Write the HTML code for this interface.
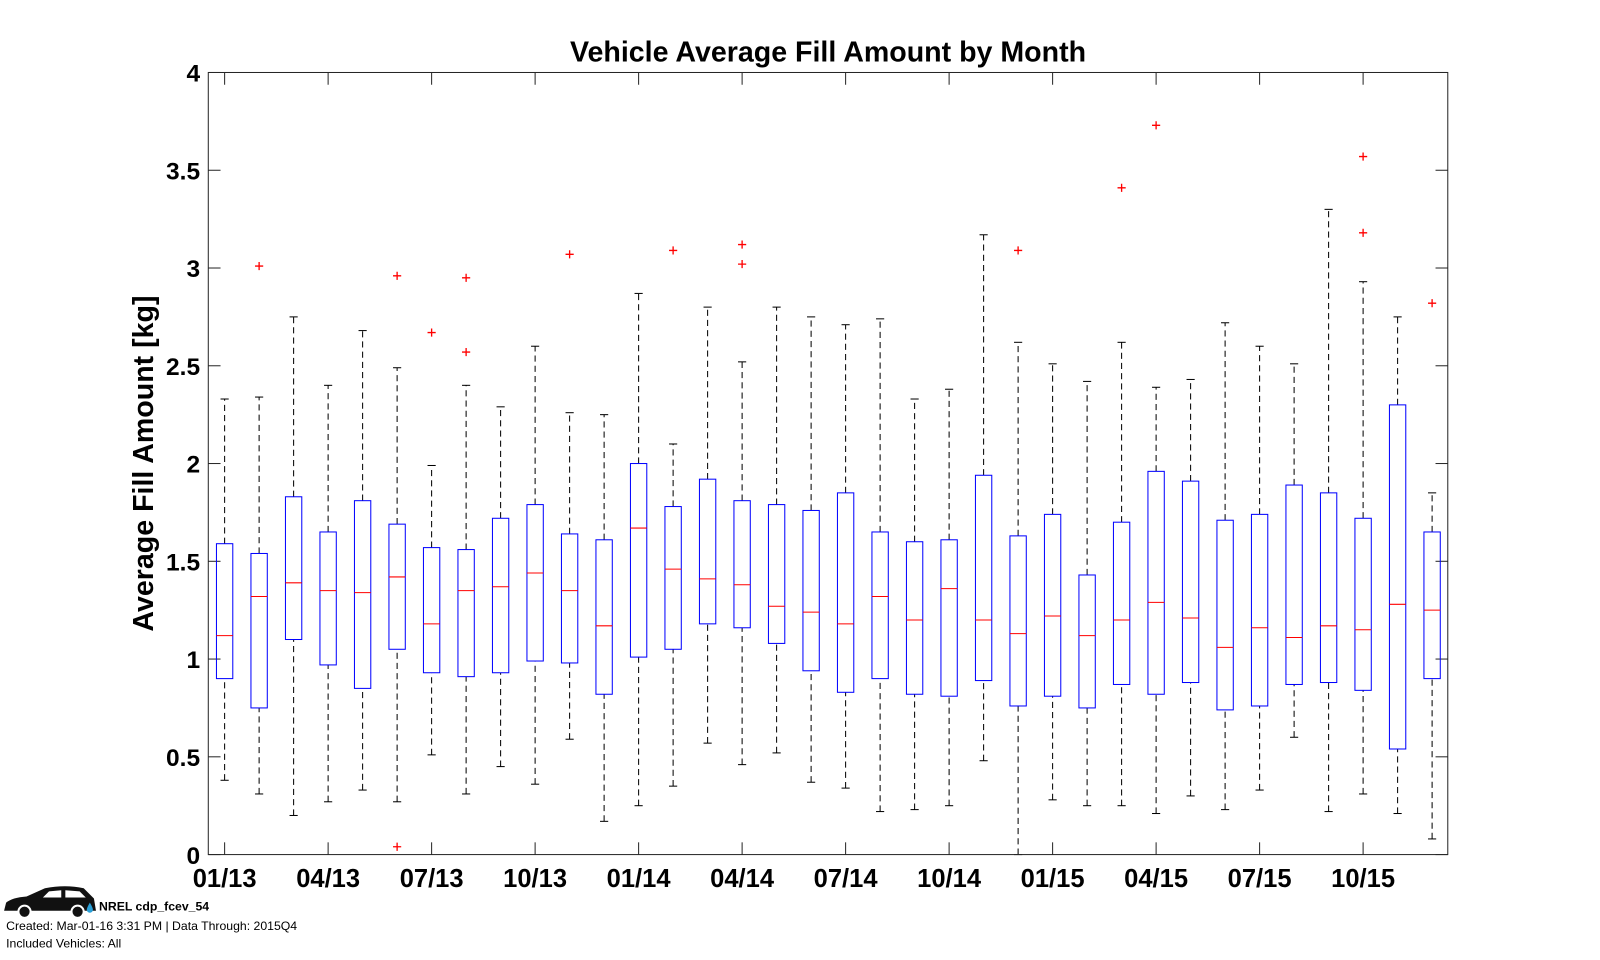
<!DOCTYPE html>
<html><head><meta charset="utf-8"><style>
html,body{margin:0;padding:0;background:#fff;width:1600px;height:960px;overflow:hidden}
svg{display:block}
</style></head><body>
<svg id="s" width="1600" height="960" xmlns="http://www.w3.org/2000/svg" font-family="Liberation Sans, Arial, sans-serif">
<rect width="1600" height="960" fill="#fff"/>
<g transform="scale(1.021)">
<text x="811" y="60" text-anchor="middle" font-size="28" font-weight="bold">Vehicle Average Fill Amount by Month</text>
<text transform="translate(150,454) rotate(-90)" text-anchor="middle" font-size="28" font-weight="bold">Average Fill Amount [kg]</text>
<g id="plot"></g>
<rect x="204" y="71" width="1214" height="766" fill="none" stroke="#262626" stroke-width="1"/>
<g transform="translate(4,866)">
<path d="M0,26 L2,18 Q8,13 22,12 L40,4 Q60,0 78,4 L88,14 L90,26 Z" fill="#111"/>
<circle cx="20" cy="27" r="6" fill="#111" stroke="#fff" stroke-width="2"/>
<circle cx="72" cy="27" r="6" fill="#111" stroke="#fff" stroke-width="2"/>
<path d="M44,7 L56,6 L56,13 L38,13 Z M60,6 L74,7 L80,13 L60,13 Z" fill="#fff"/>
<path d="M84,18 Q87,23 87,25 A3,3 0 0 1 81,25 Q81,23 84,18Z" fill="#2a9fd6"/>
</g>
<text x="97" y="892" font-size="12" font-weight="bold">NREL cdp_fcev_54</text>
<text x="6" y="911" font-size="12">Created: Mar-01-16  3:31 PM | Data Through: 2015Q4</text>
<text x="6" y="928" font-size="12">Included Vehicles: All</text>
</g>
</svg>
<script>
var d=[
[.38,.90,1.12,1.59,2.33,[]],[.31,.75,1.32,1.54,2.34,[3.01]],[.20,1.10,1.39,1.83,2.75,[]],
[.27,.97,1.35,1.65,2.40,[]],[.33,.85,1.34,1.81,2.68,[]],[.27,1.05,1.42,1.69,2.49,[2.96,.04]],
[.51,.93,1.18,1.57,1.99,[2.67]],[.31,.91,1.35,1.56,2.40,[2.57,2.95]],[.45,.93,1.37,1.72,2.29,[]],
[.36,.99,1.44,1.79,2.60,[]],[.59,.98,1.35,1.64,2.26,[3.07]],[.17,.82,1.17,1.61,2.25,[]],
[.25,1.01,1.67,2.00,2.87,[]],[.35,1.05,1.46,1.78,2.10,[3.09]],[.57,1.18,1.41,1.92,2.80,[]],
[.46,1.16,1.38,1.81,2.52,[3.02,3.12]],[.52,1.08,1.27,1.79,2.80,[]],[.37,.94,1.24,1.76,2.75,[]],
[.34,.83,1.18,1.85,2.71,[]],[.22,.90,1.32,1.65,2.74,[]],[.23,.82,1.20,1.60,2.33,[]],
[.25,.81,1.36,1.61,2.38,[]],[.48,.89,1.20,1.94,3.17,[]],[0,.76,1.13,1.63,2.62,[3.09]],
[.28,.81,1.22,1.74,2.51,[]],[.25,.75,1.12,1.43,2.42,[]],[.25,.87,1.20,1.70,2.62,[3.41]],
[.21,.82,1.29,1.96,2.39,[3.73]],[.30,.88,1.21,1.91,2.43,[]],[.23,.74,1.06,1.71,2.72,[]],
[.33,.76,1.16,1.74,2.60,[]],[.60,.87,1.11,1.89,2.51,[]],[.22,.88,1.17,1.85,3.30,[]],
[.31,.84,1.15,1.72,2.93,[3.18,3.57]],[.21,.54,1.28,2.30,2.75,[]],[.08,.90,1.25,1.65,1.85,[2.82]]];
function Y(v){return 837-191.5*v}
function X(i){return 220+33.79*i}
var h='';
for(var v=0;v<=8;v++){var y=Y(v*0.5);
h+='<line x1="204" x2="216" y1="'+y+'" y2="'+y+'" stroke="#262626"/><line x1="1406" x2="1418" y1="'+y+'" y2="'+y+'" stroke="#262626"/>';
h+='<text x="196" y="'+(y+9)+'" text-anchor="end" font-size="24" font-weight="bold">'+(v*0.5)+'</text>';}
var labs=['01/13','04/13','07/13','10/13','01/14','04/14','07/14','10/14','01/15','04/15','07/15','10/15'];
for(var k=0;k<12;k++){var x=X(3*k);
h+='<line x1="'+x+'" x2="'+x+'" y1="837" y2="825" stroke="#262626"/><line x1="'+x+'" x2="'+x+'" y1="71" y2="83" stroke="#262626"/>';
h+='<text x="'+x+'" y="869" text-anchor="middle" font-size="25" font-weight="bold">'+labs[k]+'</text>';}
d.forEach(function(b,i){var x=X(i);
h+='<line x1="'+x+'" x2="'+x+'" y1="'+Y(b[0])+'" y2="'+Y(b[1])+'" stroke="#000" stroke-dasharray="6,4"/>';
h+='<line x1="'+x+'" x2="'+x+'" y1="'+Y(b[3])+'" y2="'+Y(b[4])+'" stroke="#000" stroke-dasharray="6,4"/>';
h+='<line x1="'+(x-4)+'" x2="'+(x+4)+'" y1="'+Y(b[0])+'" y2="'+Y(b[0])+'" stroke="#000"/>';
h+='<line x1="'+(x-4)+'" x2="'+(x+4)+'" y1="'+Y(b[4])+'" y2="'+Y(b[4])+'" stroke="#000"/>';
h+='<rect x="'+(x-8)+'" y="'+Y(b[3])+'" width="16" height="'+(Y(b[1])-Y(b[3]))+'" fill="none" stroke="#0000ff"/>';
h+='<line x1="'+(x-8)+'" x2="'+(x+8)+'" y1="'+Y(b[2])+'" y2="'+Y(b[2])+'" stroke="#ff0000"/>';
b[5].forEach(function(o){var y=Y(o);h+='<path d="M'+(x-4)+','+y+'h8M'+x+','+(y-4)+'v8" stroke="#ff0000" stroke-width="1.3"/>';});
});
document.getElementById('plot').innerHTML=h;
</script>
</body></html>
